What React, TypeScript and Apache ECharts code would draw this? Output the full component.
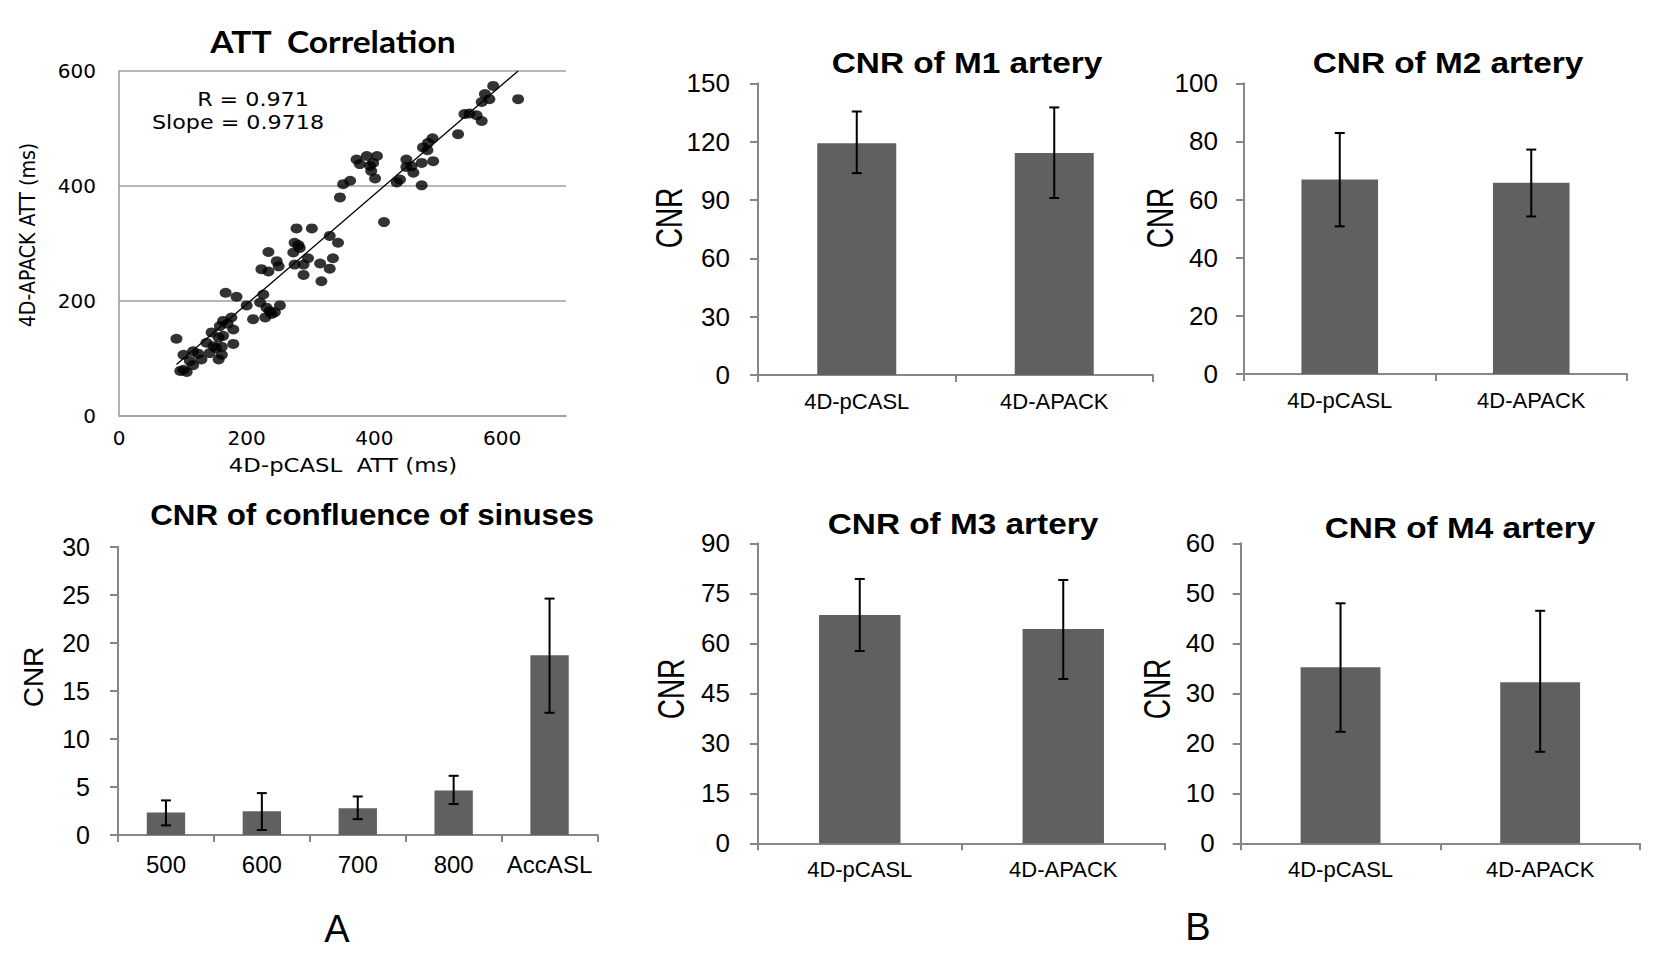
import React, { useEffect, useRef } from 'react';
import * as echarts from 'echarts';

// ---------- ATT correlation (scatter) ----------
const attPCASL = [
  586, 573, 580, 568, 625, 541, 549, 560, 568, 531,
  491, 476, 483, 484, 450, 474, 492, 458, 461, 450,
  435, 440, 474, 372, 388, 404, 377, 393, 395, 401,
  398, 351, 362, 346, 415, 278, 302, 275, 283, 273,
  330, 343, 234, 296, 335, 315, 330, 275, 289, 281,
  247, 250, 289, 317, 223, 234, 167, 184, 200, 226,
  221, 231, 252, 236, 210, 229, 239, 244, 163, 176,
  158, 179, 145, 156, 163, 170, 90, 137, 148, 161,
  179, 116, 124, 101, 142, 161, 152, 111, 129, 156,
  96, 106, 116, 101,
];
const attAPACK = [
  574, 560, 551, 546, 551, 525, 526, 523, 513, 490,
  483, 467, 462, 475, 446, 440, 443, 434, 423, 433,
  406, 411, 401, 446, 452, 452, 438, 435, 426, 413,
  440, 403, 409, 380, 337, 326, 326, 301, 292, 284,
  313, 301, 285, 274, 274, 265, 256, 263, 263, 297,
  269, 260, 245, 234, 255, 251, 214, 207, 192, 211,
  197, 188, 192, 182, 168, 171, 177, 180, 165, 171,
  156, 150, 145, 136, 139, 160, 134, 127, 121, 120,
  125, 112, 108, 106, 109, 106, 118, 95, 98, 98,
  78, 76, 88, 80,
];
const fitX = [90, 625];
const fitY = [89, 600];
const attXTicks = { min: 0, max: 700, interval: 200 };
const attYTicks = { min: 0, max: 600, interval: 200 };

// ---------- CNR of confluence of sinuses ----------
const confCategories = ['500', '600', '700', '800', 'AccASL'];
const confMean = [2.35, 2.48, 2.78, 4.63, 18.7];
const confLow = [1.0, 0.52, 1.65, 3.22, 12.72];
const confHigh = [3.6, 4.36, 4.01, 6.16, 24.6];

// ---------- CNR of M1..M4 arteries ----------
const methods = ['4D-pCASL', '4D-APACK'];
const m1Mean = [119.2, 114.1];
const m1Low = [103.8, 91.0];
const m1High = [135.5, 137.6];
const m2Mean = [66.9, 65.8];
const m2Low = [50.8, 54.2];
const m2High = [82.9, 77.2];
const m3Mean = [68.5, 64.3];
const m3Low = [57.7, 49.3];
const m3High = [79.3, 79.0];
const m4Mean = [35.2, 32.2];
const m4Low = [22.3, 18.3];
const m4High = [48.0, 46.5];

const AR = '"Liberation Sans", Arial, sans-serif';
const DV = '"DejaVu Sans", sans-serif';
const AXC = '#878787';
const BAR = '#606060';

const errRender = (params: any, api: any) => {
  const c = api.value(0);
  const lo = api.coord([c, api.value(1)]);
  const hi = api.coord([c, api.value(2)]);
  const w = 5;
  const st = { stroke: '#000', lineWidth: 2 };
  return {
    type: 'group',
    children: [
      { type: 'line', shape: { x1: lo[0], y1: lo[1], x2: hi[0], y2: hi[1] }, style: st },
      { type: 'line', shape: { x1: lo[0] - w, y1: lo[1], x2: lo[0] + w, y2: lo[1] }, style: st },
      { type: 'line', shape: { x1: hi[0] - w, y1: hi[1], x2: hi[0] + w, y2: hi[1] }, style: st },
    ],
  };
};

type Panel = {
  cats: string[];
  mean: number[];
  low: number[];
  high: number[];
  max: number;
  interval: number;
  grid: { left: number; top: number; width: number; height: number };
  tickFont: number;
  catFont: number;
  catMargin: number;
  yMargin: number;
};

const panels: Panel[] = [
  { cats: confCategories, mean: confMean, low: confLow, high: confHigh, max: 30, interval: 5,
    grid: { left: 118, top: 546.7, width: 479.5, height: 288.3 }, tickFont: 25, catFont: 24, catMargin: 17, yMargin: 28 },
  { cats: methods, mean: m1Mean, low: m1Low, high: m1High, max: 150, interval: 30,
    grid: { left: 758, top: 83.3, width: 395, height: 291.7 }, tickFont: 26, catFont: 22, catMargin: 15, yMargin: 28 },
  { cats: methods, mean: m2Mean, low: m2Low, high: m2High, max: 100, interval: 20,
    grid: { left: 1244, top: 83.3, width: 383, height: 290.7 }, tickFont: 26, catFont: 22, catMargin: 15, yMargin: 26 },
  { cats: methods, mean: m3Mean, low: m3Low, high: m3High, max: 90, interval: 15,
    grid: { left: 758, top: 543.3, width: 407, height: 300 }, tickFont: 26, catFont: 22, catMargin: 15, yMargin: 28 },
  { cats: methods, mean: m4Mean, low: m4Low, high: m4High, max: 60, interval: 10,
    grid: { left: 1240.7, top: 543.3, width: 399.3, height: 300 }, tickFont: 26, catFont: 22, catMargin: 15, yMargin: 26 },
];

type Label = { text: string; x: number; y: number; size: number; family: string; bold?: boolean; sx?: number; sy?: number; rot?: boolean };

const labels: Label[] = [
  { text: 'ATT  Correlation', x: 333, y: 42, size: 30, family: '"Lato", "Open Sans", sans-serif', bold: true, sx: 1.12 },
  { text: 'CNR of confluence of sinuses', x: 372, y: 515, size: 29, family: AR, bold: true, sx: 1.08 },
  { text: 'CNR of M1 artery', x: 967, y: 63, size: 29, family: AR, bold: true, sx: 1.15 },
  { text: 'CNR of M2 artery', x: 1448, y: 63, size: 29, family: AR, bold: true, sx: 1.15 },
  { text: 'CNR of M3 artery', x: 963, y: 524, size: 29, family: AR, bold: true, sx: 1.15 },
  { text: 'CNR of M4 artery', x: 1460, y: 528, size: 29, family: AR, bold: true, sx: 1.15 },
  { text: 'R = 0.971', x: 253, y: 100, size: 19, family: DV, sx: 1.17 },
  { text: 'Slope = 0.9718', x: 238, y: 123, size: 19, family: DV, sx: 1.17 },
  { text: '4D-pCASL  ATT (ms)', x: 343, y: 465, size: 20, family: DV, sx: 1.14 },
  { text: '4D-APACK ATT (ms)', x: 28, y: 235, size: 19, family: DV, rot: true, sy: 1.1 },
  { text: 'CNR', x: 33, y: 677, size: 28, family: AR, rot: true },
  { text: 'CNR', x: 670, y: 218, size: 28, family: AR, rot: true, sy: 1.3 },
  { text: 'CNR', x: 1161, y: 218, size: 28, family: AR, rot: true, sy: 1.3 },
  { text: 'CNR', x: 672, y: 689, size: 28, family: AR, rot: true, sy: 1.3 },
  { text: 'CNR', x: 1158, y: 689, size: 28, family: AR, rot: true, sy: 1.3 },
  { text: 'A', x: 337, y: 929, size: 38, family: AR },
  { text: 'B', x: 1198, y: 927, size: 38, family: AR },
];

export default function App() {
  const ref = useRef<HTMLDivElement>(null);
  useEffect(() => {
    if (!ref.current) return;
    const chart = echarts.init(ref.current, null, { renderer: 'svg' });

    const grids: any[] = [{ left: 119, top: 71, width: 447, height: 344.7 }];
    const xAxes: any[] = [
      {
        type: 'value', gridIndex: 0, ...attXTicks,
        axisLine: { show: true, onZero: false, lineStyle: { color: '#9a9a9a', width: 1.5 } },
        axisTick: { show: false },
        splitLine: { show: false },
        axisLabel: { fontSize: 20, fontFamily: DV, color: '#000', margin: 12, showMaxLabel: false },
      },
    ];
    const yAxes: any[] = [
      {
        type: 'value', gridIndex: 0, ...attYTicks,
        axisLine: { show: true, lineStyle: { color: '#9a9a9a', width: 1.5 } },
        axisTick: { show: false },
        splitLine: { show: true, lineStyle: { color: '#a0a0a0', width: 1.5 } },
        axisLabel: { fontSize: 20, fontFamily: DV, color: '#000', margin: 23 },
      },
    ];
    const series: any[] = [
      {
        type: 'scatter', xAxisIndex: 0, yAxisIndex: 0,
        data: attPCASL.map((x, i) => [x, attAPACK[i]]),
        symbol: 'circle', symbolSize: [12, 10],
        itemStyle: { color: '#000' },
      },
      {
        type: 'line', xAxisIndex: 0, yAxisIndex: 0,
        data: fitX.map((x, i) => [x, fitY[i]]),
        symbol: 'none', lineStyle: { color: '#000', width: 1.3 }, z: 3,
      },
    ];

    panels.forEach((p, k) => {
      const i = k + 1;
      grids.push(p.grid);
      xAxes.push({
        type: 'category', gridIndex: i, data: p.cats, boundaryGap: true,
        axisLine: { show: true, lineStyle: { color: AXC, width: 2 } },
        axisTick: { show: true, length: 7, lineStyle: { color: AXC, width: 2 } },
        axisLabel: { interval: 0, fontSize: p.catFont, fontFamily: AR, color: '#000', margin: p.catMargin },
        splitLine: { show: false },
      });
      yAxes.push({
        type: 'value', gridIndex: i, min: 0, max: p.max, interval: p.interval,
        axisLine: { show: true, lineStyle: { color: AXC, width: 2 } },
        axisTick: { show: true, length: 8, lineStyle: { color: AXC, width: 2 } },
        axisLabel: { fontSize: p.tickFont, fontFamily: AR, color: '#000', margin: p.yMargin },
        splitLine: { show: false },
      });
      series.push({
        type: 'bar', xAxisIndex: i, yAxisIndex: i, data: p.mean,
        barCategoryGap: '60%', itemStyle: { color: BAR },
      });
      series.push({
        type: 'custom', xAxisIndex: i, yAxisIndex: i,
        data: p.cats.map((_, j) => [j, p.low[j], p.high[j]]),
        encode: { x: 0, y: [1, 2] },
        renderItem: errRender, z: 10,
      });
    });

    const graphics: any[] = labels.map((t) => ({
      type: 'text', x: t.x, y: t.y,
      rotation: t.rot ? Math.PI / 2 : 0,
      scaleX: t.sx ?? 1,
      scaleY: t.sy ?? 1,
      style: {
        text: t.text, fill: '#000', fontSize: t.size, fontWeight: t.bold ? 'bold' : 'normal',
        fontFamily: t.family, textAlign: 'center', textVerticalAlign: 'middle',
      },
    }));

    chart.setOption({
      animation: false,
      backgroundColor: '#fff',
      grid: grids,
      xAxis: xAxes,
      yAxis: yAxes,
      series,
      graphic: graphics,
    });
    return () => chart.dispose();
  }, []);

  return (
    <div
      ref={ref}
      style={{ position: 'fixed', left: 0, top: 0, width: 1666, height: 980, background: '#fff' }}
    />
  );
}
